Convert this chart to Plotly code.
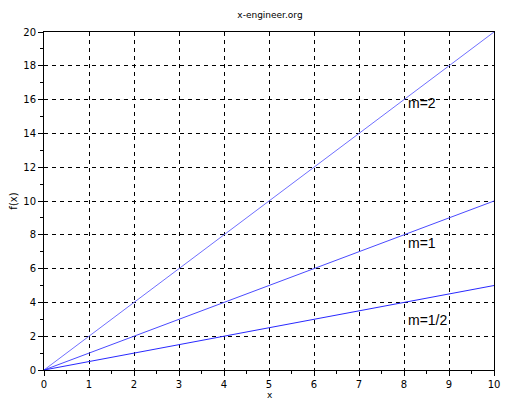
import plotly.graph_objects as go

x_vals = [0, 10]
slopes = [2, 1, 0.5]
labels = ["m=2", "m=1", "m=1/2"]
label_x = [8.05, 8.05, 8.05]
label_y = [15.8, 7.5, 2.95]
line_colors = ["#6f6fff", "#4a4aff", "#2828ff"]

fig = go.Figure()
for m, c in zip(slopes, line_colors):
    fig.add_trace(go.Scatter(x=x_vals, y=[m * v for v in x_vals], mode="lines",
                             line=dict(color=c, width=1), showlegend=False))

for t, lx, ly in zip(labels, label_x, label_y):
    fig.add_annotation(x=lx, y=ly, text=t, showarrow=False, xanchor="left", yanchor="middle",
                       font=dict(family="Liberation Sans, Arial", size=14, color="black"))

# x-axis title as an annotation so it stays inside the page
fig.add_annotation(x=0.502, y=-0.075, xref="paper", yref="paper", text="x", showarrow=False,
                   xanchor="center", yanchor="middle",
                   font=dict(family="DejaVu Sans", size=9, color="black"))

axis_common = dict(showline=True, linecolor="black", linewidth=1, mirror=True,
                   showgrid=True, gridcolor="black", griddash="4px,4px", gridwidth=1,
                   ticks="outside", ticklen=5, tickcolor="black", zeroline=False, automargin=False,
                   tickfont=dict(family="DejaVu Sans", size=10, color="black"))

fig.update_xaxes(range=[0, 10], dtick=1,
                 minor=dict(dtick=0.5, ticks="outside", ticklen=3, tickcolor="black", showgrid=False),
                 **axis_common)
fig.update_yaxes(range=[0, 20], dtick=2,
                 title=dict(text="f(x)", font=dict(family="DejaVu Sans", size=10, color="black"), standoff=11),
                 minor=dict(dtick=1, ticks="outside", ticklen=3, tickcolor="black", showgrid=False),
                 **axis_common)

fig.update_layout(width=525, height=404, margin=dict(l=36, r=39, t=24, b=42),
                  paper_bgcolor="white", plot_bgcolor="white",
                  title=dict(text="x-engineer.org", x=0.499, xanchor="center", y=0.983, yanchor="middle",
                             font=dict(family="DejaVu Sans", size=9, color="black")))

fig.write_html("out.html")
